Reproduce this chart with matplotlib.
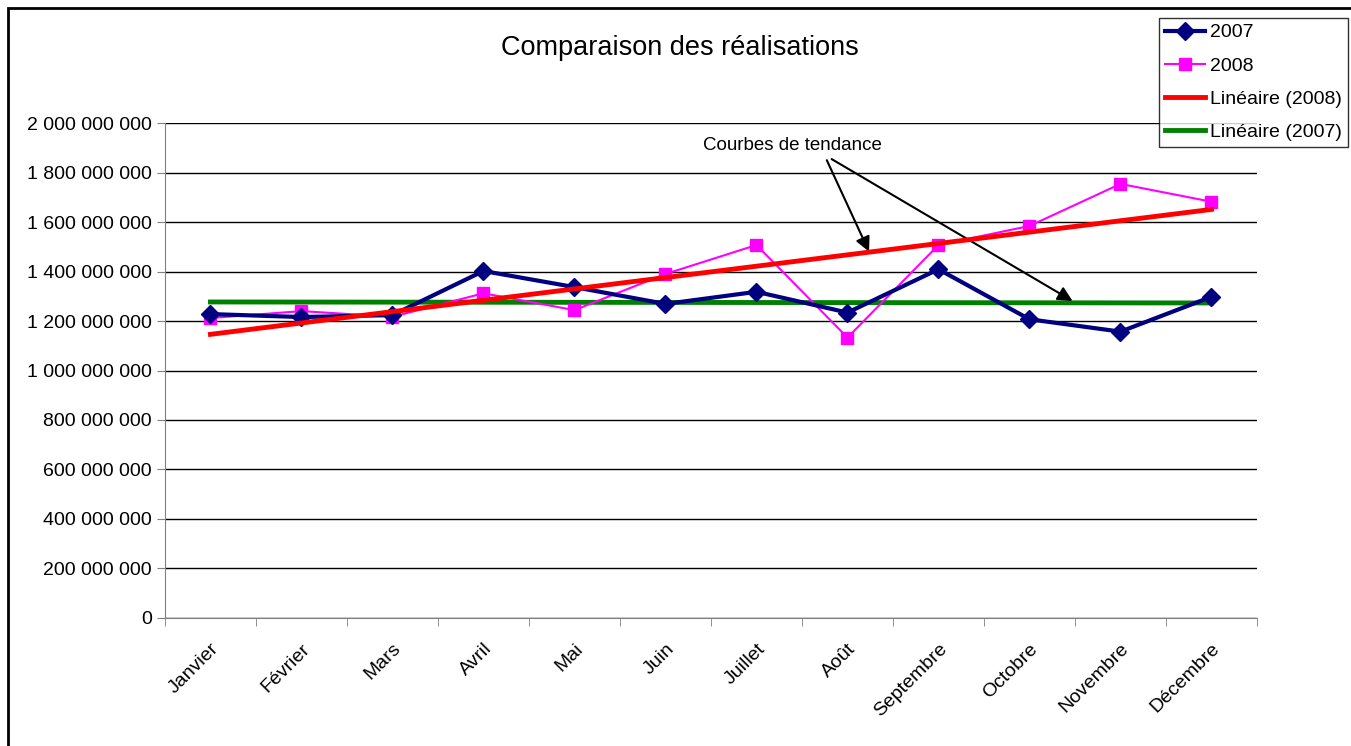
import numpy as np
import matplotlib.pyplot as plt
from matplotlib.ticker import FuncFormatter, MultipleLocator
from matplotlib.patches import Rectangle

plt.rcParams['font.family'] = ['Liberation Sans', 'DejaVu Sans']

months = ['Janvier', 'Février', 'Mars', 'Avril', 'Mai', 'Juin', 'Juillet',
          'Août', 'Septembre', 'Octobre', 'Novembre', 'Décembre']
v2007 = [1228e6, 1216e6, 1224e6, 1402e6, 1337e6, 1269e6, 1318e6,
         1234e6, 1409e6, 1207e6, 1157e6, 1298e6]
v2008 = [1212e6, 1240e6, 1217e6, 1312e6, 1244e6, 1390e6, 1507e6,
         1133e6, 1507e6, 1584e6, 1754e6, 1682e6]

x = np.arange(len(months))
# linear trend lines
c07 = np.polyfit(x, v2007, 1)
c08 = np.polyfit(x, v2008, 1)

fig = plt.figure(figsize=(13.51, 7.46), dpi=100)
ax = fig.add_axes([0.1221, 0.1716, 0.8083, 0.6635])

ax.plot(x, v2007, color='#000080', lw=3, marker='D', ms=9, label='2007', zorder=4)
ax.plot(x, v2008, color='#FF00FF', lw=1.5, marker='s', ms=8, label='2008', zorder=3)
ax.plot(x, np.polyval(c08, x), color='#FF0000', lw=3.5, label='Linéaire (2008)', zorder=5)
ax.plot(x, np.polyval(c07, x), color='#008000', lw=3.5, label='Linéaire (2007)', zorder=2)

ax.set_xlim(-0.5, 11.5)
ax.set_ylim(0, 2e9)
ax.yaxis.set_major_locator(MultipleLocator(2e8))
ax.yaxis.set_major_formatter(FuncFormatter(lambda v, p: f'{int(round(v)):,}'.replace(',', ' ')))
ax.grid(axis='y', color='black', lw=1)
ax.set_axisbelow(True)

ax.set_xticks(x)
ax.set_xticklabels(months, rotation=45, ha='right', rotation_mode='anchor', fontsize=14)
ax.set_xticks(np.arange(-0.5, 12, 1), minor=True)
ax.tick_params(axis='x', which='major', length=0, pad=16)
ax.tick_params(axis='x', which='minor', length=6, color='#808080')
ax.tick_params(axis='y', length=6, color='#808080', labelsize=14)

for s in ['top', 'right']:
    ax.spines[s].set_visible(False)
for s in ['left', 'bottom']:
    ax.spines[s].set_color('#808080')

fig.text(0.5035, 0.935, 'Comparaison des réalisations', ha='center', va='center', fontsize=19.5)

ax.text(6.39, 1.91e9, 'Courbes de tendance', ha='center', va='center', fontsize=13.5)
arrow = dict(arrowstyle='-|>', color='black', lw=1.5, mutation_scale=22)
ax.annotate('', xy=(7.25, 1.47e9), xytext=(6.76, 1.86e9), arrowprops=arrow)
ax.annotate('', xy=(9.5, 1.275e9), xytext=(6.8, 1.86e9), arrowprops=arrow)

leg = fig.legend(loc='upper right', bbox_to_anchor=(1348 / 1351, 0.976), fontsize=14,
                 frameon=True, fancybox=False, edgecolor='black', handlelength=2.1,
                 borderaxespad=0, labelspacing=0.8, handletextpad=0.25, borderpad=0.3)
leg.get_frame().set_linewidth(1)

fig.patches.append(Rectangle((0.006, -0.1), 1.2, 1.0893, transform=fig.transFigure,
                             fill=False, edgecolor='black', lw=2))

fig.savefig('out.png', dpi=100)
